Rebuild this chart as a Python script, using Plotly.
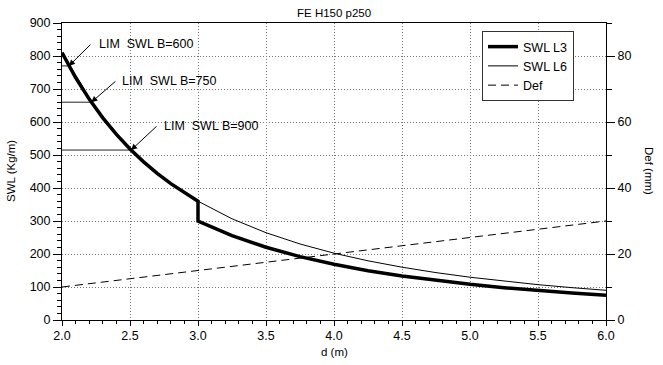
import plotly.graph_objects as go

# ---- data ----
d_l3 = [2.0, 2.1, 2.2, 2.3, 2.4, 2.5, 2.6, 2.7, 2.8, 2.9, 3.0,
        3.0, 3.25, 3.5, 3.75, 4.0, 4.25, 4.5, 4.75, 5.0, 5.25, 5.5, 5.75, 6.0]
swl_l3 = [810, 734.7, 669.4, 612.5, 562.5, 518.4, 479.3, 444.4, 413.3, 385.3, 360,
          300, 255.6, 220.4, 192, 168.8, 149.5, 133.3, 119.7, 108, 98, 89.3, 81.7, 75]

d_l6 = [2.0, 2.25, 2.5, 2.75, 3.0, 3.25, 3.5, 3.75, 4.0, 4.25, 4.5, 4.75, 5.0, 5.25, 5.5, 5.75, 6.0]
swl_l6 = [810, 640, 518.4, 428.4, 360, 306.7, 264.5, 230.4, 202.5, 179.4, 160, 143.6, 129.6, 117.6, 107.1, 98, 90]

d_def = [2.0, 3.0, 4.0, 5.0, 6.0]
def_mm = [10, 15, 20, 25, 30]

lim_labels = ["LIM  SWL B=600", "LIM  SWL B=750", "LIM  SWL B=900"]
lim_swl = [770, 660, 515]
lim_d = [2.051, 2.216, 2.508]
lim_tail_d = [2.22, 2.404, 2.706]
lim_tail_swl = [839, 727, 591]
lim_text_d = [2.257, 2.426, 2.735]
lim_text_swl = [836, 724, 588]

y2_ticks = [0, 20, 40, 60, 80]

FONT = "Liberation Sans, Arial, sans-serif"

# plot-area pixel geometry
L, R, T, B = 62, 606, 23, 320
W, H = 663, 365


def px_x(p):
    return (p - L) / (R - L)


def px_y(p):
    return (B - p) / (B - T)


fig = go.Figure()

# limit horizontal lines
for yv, dv in zip(lim_swl, lim_d):
    fig.add_trace(go.Scatter(x=[2.0, dv], y=[yv, yv], mode="lines",
                             line=dict(color="#222", width=1), showlegend=False,
                             hoverinfo="skip"))

fig.add_trace(go.Scatter(x=d_l6, y=swl_l6, mode="lines", name="SWL L6", legendrank=2,
                         line=dict(color="black", width=1)))
fig.add_trace(go.Scatter(x=d_l3, y=swl_l3, mode="lines", name="SWL L3", legendrank=1,
                         line=dict(color="black", width=3.5)))
fig.add_trace(go.Scatter(x=d_def, y=def_mm, mode="lines", name="Def", yaxis="y2", legendrank=3,
                         line=dict(color="black", width=1, dash="8px,5px")))

annotations = []
for lab, yv, dv, tx, ty, lx, ly in zip(lim_labels, lim_swl, lim_d, lim_tail_d,
                                        lim_tail_swl, lim_text_d, lim_text_swl):
    annotations.append(dict(x=dv, y=yv, xref="x", yref="y", ax=tx, ay=ty,
                            axref="x", ayref="y", text="", showarrow=True,
                            arrowhead=2, arrowsize=1.2, arrowwidth=1, arrowcolor="black"))
    annotations.append(dict(x=lx, y=ly, xref="x", yref="y", text=lab, showarrow=False,
                            xanchor="left", yanchor="middle",
                            font=dict(size=12.5, color="black", family=FONT)))

annotations.append(dict(x=px_x(11), y=px_y(171), xref="paper", yref="paper", text="SWL (Kg/m)",
                        showarrow=False, textangle=-90, xanchor="center", yanchor="middle",
                        font=dict(size=11.5, color="black", family=FONT)))
annotations.append(dict(x=px_x(649), y=px_y(171), xref="paper", yref="paper", text="Def (mm)",
                        showarrow=False, textangle=90, xanchor="center", yanchor="middle",
                        font=dict(size=11.5, color="black", family=FONT)))
annotations.append(dict(x=px_x(334), y=px_y(352), xref="paper", yref="paper", text="d (m)",
                        showarrow=False, xanchor="center", yanchor="middle",
                        font=dict(size=11.5, color="black", family=FONT)))
annotations.append(dict(x=px_x(334), y=px_y(13), xref="paper", yref="paper", text="FE H150 p250",
                        showarrow=False, xanchor="center", yanchor="middle",
                        font=dict(size=11.5, color="black", family=FONT)))

GRID = dict(showgrid=True, gridcolor="#777", griddash="1px,2px", gridwidth=1, zeroline=False)

fig.update_layout(
    width=W, height=H,
    margin=dict(l=L, r=W - R, t=T, b=H - B),
    paper_bgcolor="white", plot_bgcolor="white",
    font=dict(family=FONT, size=12.5, color="black"),
    xaxis=dict(range=[2.0, 6.0], tick0=2.0, dtick=0.5, tickformat=".1f",
               showline=True, linecolor="black", linewidth=1, mirror=True,
               ticks="outside", ticklen=5, tickcolor="black", tickwidth=1,
               ticklabelstandoff=-1,
               minor=dict(dtick=0.1, ticks="outside", ticklen=3, tickcolor="black", showgrid=False),
               **GRID),
    yaxis=dict(range=[0, 900], tick0=0, dtick=100, showline=True, linecolor="black", linewidth=1,
               ticks="outside", ticklen=8, tickcolor="black", tickwidth=1,
               minor=dict(dtick=20, ticks="outside", ticklen=4, tickcolor="black", showgrid=False),
               **GRID),
    yaxis2=dict(range=[0, 90], overlaying="y", side="right", tickmode="array",
                tickvals=y2_ticks,
                showline=True, linecolor="black", linewidth=1, ticks="outside", ticklen=8,
                tickcolor="black", tickwidth=1, showgrid=False, zeroline=False,
                minor=dict(dtick=10, ticks="outside", ticklen=5, tickcolor="black", showgrid=False)),
    legend=dict(x=px_x(482), y=px_y(31), xanchor="left", yanchor="top", bgcolor="white",
                bordercolor="#333", borderwidth=1, font=dict(size=12.5),
                traceorder="normal", tracegroupgap=0, itemwidth=30),
    annotations=annotations,
    showlegend=True,
)

fig.write_html("out.html", config={"displayModeBar": False},
               post_script="document.body.style.margin='0';document.body.style.padding='0';")
